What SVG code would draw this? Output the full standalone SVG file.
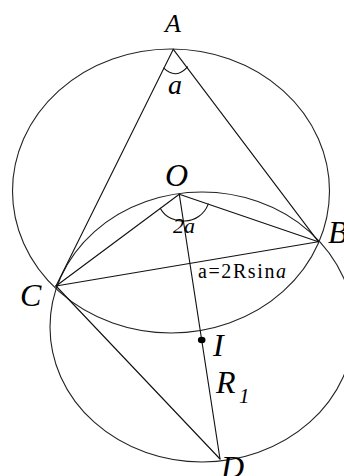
<svg xmlns="http://www.w3.org/2000/svg" width="344" height="476" viewBox="0 0 344 476">
<style>
.ln{fill:none;stroke:#111;stroke-width:1.1;stroke-linecap:round}
.cr{fill:none;stroke:#222;stroke-width:1.1}
.lbl{font-family:"Liberation Serif","Times New Roman",serif;font-style:italic;fill:#000}
.up{font-family:"Liberation Serif","Times New Roman",serif;fill:#000}
</style>
<rect width="344" height="476" fill="#fff"/>
<g id="circles">
<ellipse class="cr" cx="171" cy="191" rx="158.5" ry="142"/>
<ellipse class="cr" cx="202" cy="327" rx="152" ry="135"/>
</g>
<g id="segments">
<line class="ln" x1="173.3" y1="49.3" x2="56" y2="286"/>
<line class="ln" x1="173.3" y1="49.3" x2="318.3" y2="241.7"/>
<line class="ln" x1="179.3" y1="194.3" x2="56" y2="286"/>
<line class="ln" x1="179.3" y1="194.3" x2="318.3" y2="241.7"/>
<line class="ln" x1="56" y1="286" x2="318.3" y2="241.7"/>
<line class="ln" x1="179.3" y1="194.3" x2="220" y2="459"/>
<line class="ln" x1="56" y1="286" x2="220" y2="459"/>
<path class="ln" d="M163.8,68.2 Q176,80 187.5,66.8"/>
<path class="ln" d="M160.4,208.4 C170,226 200,226 208.2,204.1"/>
</g>
<g id="point-I"><ellipse cx="201.7" cy="340" rx="3.8" ry="3.2" fill="#000"/></g>
<g id="labels">
<text class="lbl" font-family="Liberation Serif, serif" x="165" y="32" font-size="26">A</text>
<text class="lbl" font-family="Liberation Serif, serif" x="168" y="94" font-size="28">a</text>
<text class="lbl" font-family="Liberation Serif, serif" x="165" y="186" font-size="32">O</text>
<text class="lbl" font-family="Liberation Serif, serif" x="173" y="233" font-size="22">2a</text>
<text class="lbl" font-family="Liberation Serif, serif" x="328" y="243" font-size="32">B</text>
<text class="up" font-family="Liberation Serif, serif" x="198" y="278" font-size="20" textLength="88" lengthAdjust="spacing">a=2Rsin<tspan font-style="italic">a</tspan></text>
<text class="lbl" font-family="Liberation Serif, serif" x="20" y="306" font-size="32">C</text>
<text class="lbl" font-family="Liberation Serif, serif" x="213" y="356" font-size="32">I</text>
<text class="lbl" font-family="Liberation Serif, serif" x="216" y="393" font-size="32">R</text>
<text class="lbl" font-family="Liberation Serif, serif" x="239" y="403" font-size="21">1</text>
<text class="lbl" font-family="Liberation Serif, serif" x="221" y="478" font-size="32">D</text>
</g>
</svg>
